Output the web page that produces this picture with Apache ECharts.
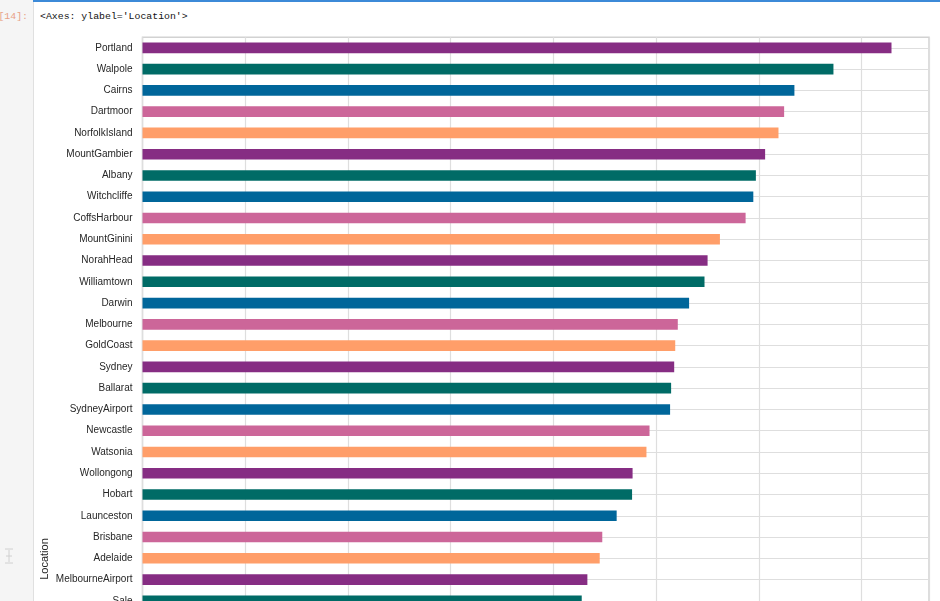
<!DOCTYPE html>
<html>
<head>
<meta charset="utf-8">
<script src="https://cdn.jsdelivr.net/npm/echarts@6/dist/echarts.min.js"></script>
<style>
  html, body { margin: 0; padding: 0; width: 940px; height: 601px; overflow: hidden; background: #fff; }
  #gutter { position: absolute; left: 0; top: 0; width: 33px; height: 601px; background: #f5f5f5; border-right: 1px solid #e0e0e0; }
  #topline { position: absolute; left: 33px; top: 0; width: 907px; height: 1.5px; background: #3c8ad8; }
  #prompt { position: absolute; right: 912px; top: 10.5px; font: 9.85px "Liberation Mono", monospace; color: #e8a285; white-space: pre; }
  #out { position: absolute; left: 40px; top: 10.5px; font: 9.85px "Liberation Mono", monospace; color: #111; white-space: pre; }
  #icon { position: absolute; left: 5px; top: 548px; width: 8px; height: 16px; }
  #main { position: absolute; left: 0; top: 0; width: 940px; height: 640px; }
</style>
</head>
<body>
<div id="gutter"></div>
<div id="topline"></div>
<div id="prompt">[14]:</div>
<div id="out">&lt;Axes: ylabel='Location'&gt;</div>
<svg id="icon" viewBox="0 0 8 16">
  <line x1="0" y1="1" x2="8" y2="1" stroke="#d0d0d0" stroke-width="1"/>
  <line x1="0" y1="15" x2="8" y2="15" stroke="#d0d0d0" stroke-width="1"/>
  <line x1="4" y1="2" x2="4" y2="14" stroke="#d0d0d0" stroke-width="1"/>
  <line x1="1" y1="8" x2="7" y2="8" stroke="#d0d0d0" stroke-width="1"/>
</svg>
<div id="main"></div>
<script>
  "use strict";

  var locations = [
    "Portland", "Walpole", "Cairns", "Dartmoor", "NorfolkIsland",
    "MountGambier", "Albany", "Witchcliffe", "CoffsHarbour", "MountGinini",
    "NorahHead", "Williamtown", "Darwin", "Melbourne", "GoldCoast",
    "Sydney", "Ballarat", "SydneyAirport", "Newcastle", "Watsonia",
    "Wollongong", "Hobart", "Launceston", "Brisbane", "Adelaide",
    "MelbourneAirport", "Sale",
  ];
  var counts = [
    1458, 1345, 1269, 1249, 1238,
    1212, 1194, 1189, 1174, 1124,
    1100, 1094, 1064, 1042, 1037,
    1035, 1029, 1027, 987, 981,
    954, 953, 923, 895, 890,
    866, 855,
  ];
  var palette = ["#862d83", "#006b66", "#00669a", "#cc6699", "#ff9e69"];

  var chartDom = document.getElementById("main");
  var myChart = echarts.init(chartDom);

  var option = {
    animation: false,
    grid: {
      left: 142.5,
      top: 37.2,
      width: 786.5,
      height: 574.3,
      show: true,
      borderColor: "#d2d2d2",
      borderWidth: 1.5,
      backgroundColor: "transparent",
    },
    xAxis: {
      type: "value",
      min: 0,
      max: 1531,
      interval: 200,
      axisLine: { show: false },
      axisTick: { show: false },
      axisLabel: { show: false },
      splitLine: { lineStyle: { color: "#dedede", width: 1.2 } },
    },
    yAxis: {
      type: "category",
      inverse: true,
      data: locations,
      axisLine: { show: false },
      axisTick: { show: false },
      splitLine: { show: false },
      axisLabel: {
        margin: 10,
        color: "#262626",
        fontSize: 10,
        fontFamily: "Liberation Sans, Arial, sans-serif",
      },
    },
    graphic: [
      {
        type: "text",
        x: 44.5,
        y: 559,
        rotation: Math.PI / 2,
        style: {
          text: "Location",
          fill: "#262626",
          fontSize: 11,
          fontFamily: "Liberation Sans, Arial, sans-serif",
          align: "center",
          verticalAlign: "middle",
        },
      },
    ],
    series: [
      {
        type: "bar",
        z: 2,
        barWidth: 10.6,
        data: counts.map(function (v, i) {
          return { value: v, itemStyle: { color: palette[i % palette.length] } };
        }),
        markLine: {
          z: 1,
          silent: true,
          symbol: "none",
          label: { show: false },
          lineStyle: { color: "#dedede", width: 1.2, type: "solid" },
          data: locations.map(function (c) {
            return { yAxis: c };
          }),
        },
      },
    ],
  };

  option && myChart.setOption(option);
</script>
</body>
</html>
